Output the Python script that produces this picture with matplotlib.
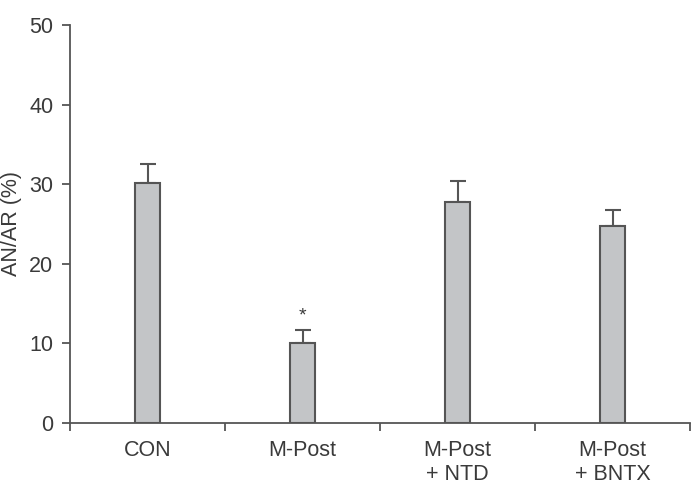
import matplotlib
matplotlib.use("Agg")
import matplotlib.pyplot as plt
import numpy as np

categories = ["CON", "M-Post", "M-Post\n+ NTD", "M-Post\n+ BNTX"]
values = [30.1, 10.0, 27.8, 24.8]
errors = [2.4, 1.7, 2.6, 2.0]
significant = [False, True, False, False]
yticks = [0, 10, 20, 30, 40, 50]

plt.rcParams['font.family'] = ['Liberation Sans', 'DejaVu Sans']
txt = '#3a3a3a'
line = '#555555'

fig = plt.figure(figsize=(6.95, 4.86), dpi=100)
ax = fig.add_axes([70/695, 1-423/486, 620/695, 398/486])

x = np.arange(len(categories))
ax.bar(x, values, width=0.16, color='#c3c5c7', edgecolor=line, linewidth=1.5, zorder=2)
ax.errorbar(x, values, yerr=[np.zeros(len(errors)), errors], fmt='none',
            ecolor=line, elinewidth=1.5, capsize=6, capthick=1.5, zorder=1)
for xi, v, e, s in zip(x, values, errors, significant):
    if s:
        ax.text(xi, v + e + 1.7, '*', ha='center', va='center', fontsize=14, color=txt)

ax.set_xlim(-0.5, len(categories) - 0.5)
ax.set_ylim(0, 50)
ax.set_yticks(yticks)
ax.set_xticks(np.arange(len(categories) + 1) - 0.5)
ax.set_xticklabels([])
ax.set_xticks(x, minor=True)
ax.set_xticklabels(categories, minor=True, fontsize=15.5, color=txt, linespacing=1.2)
ax.tick_params(axis='x', which='major', direction='out', length=6, width=1.3, color=line)
ax.tick_params(axis='x', which='minor', length=0, pad=12)
ax.tick_params(axis='y', direction='out', length=6, width=1.3, color=line, labelsize=15.5, labelcolor=txt, pad=6)

for s in ['top', 'right']:
    ax.spines[s].set_visible(False)
for s in ['left', 'bottom']:
    ax.spines[s].set_color(line)
    ax.spines[s].set_linewidth(1.3)

ax.set_ylabel('AN/AR (%)', fontsize=15.5, color=txt)
ax.yaxis.set_label_coords(-0.078, 0.5)

fig.savefig('out.png', dpi=100)
